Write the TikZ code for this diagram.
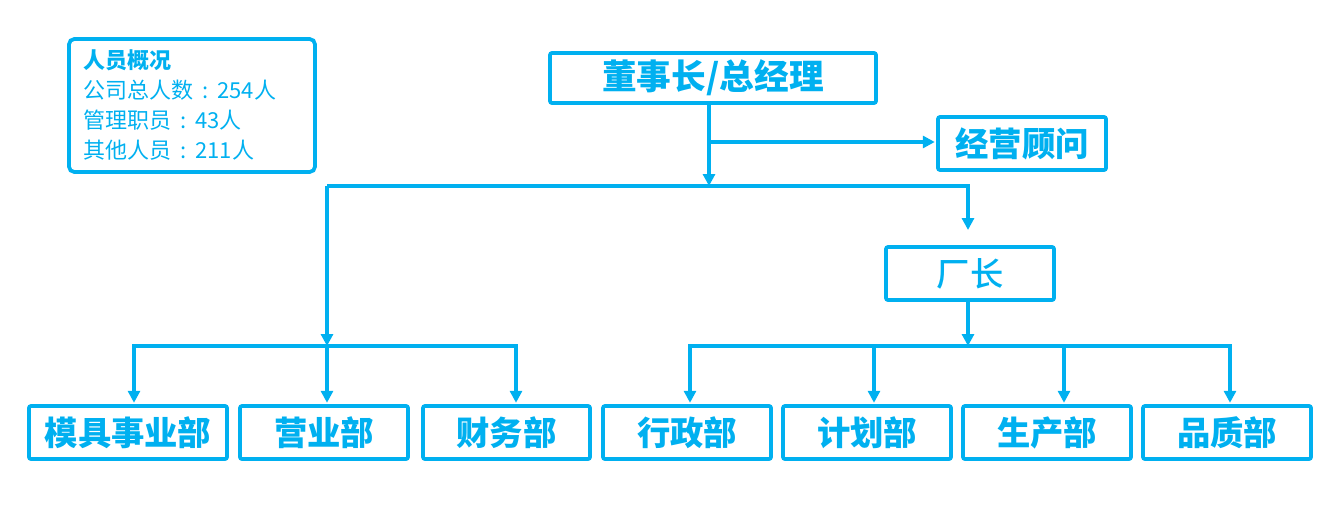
\documentclass[tikz,border=0pt]{standalone}
\usepackage{fontspec}
\newfontfamily\cjk{Noto Sans CJK SC}
\newfontfamily\cjkm{Noto Sans CJK SC}[UprightFont=* Medium]
\usetikzlibrary{arrows.meta}
\definecolor{c}{HTML}{00B0F0}
\tikzset{
  box/.style={draw=c, line width=2.8pt, rounded corners=1.5pt, text=c, inner sep=0pt,
    minimum height=39.75pt, minimum width=126pt, font=\cjk\bfseries\fontsize{25}{30}\selectfont},
  conn/.style={draw=c, line width=2.8pt},
  arr/.style={conn, -{Triangle[width=9pt,length=9pt]}},
  arr2/.style={conn, {Triangle[width=9pt,length=9pt]}-{Triangle[width=9pt,length=9pt]}},
}
\newcommand{\colonsep}{\makebox[1.1em]{:}}
\begin{document}
\begin{tikzpicture}[x=0.75pt,y=-0.75pt]
\useasboundingbox (0,0) rectangle (1332,517);
% info box
\node[draw=c, line width=2.8pt, rounded corners=4pt, minimum width=184.5pt, minimum height=99.75pt, inner sep=0pt] (info) at (192,105.5) {};
\node[anchor=north west, align=left, inner sep=0pt, text=c, font=\cjk\fontsize{16.5}{22.5}\selectfont] (infotext) at (83,49.5)
  {{\bfseries 人员概况}\\公司总人数\colonsep 254人\\管理职员\colonsep 43人\\其他人员\colonsep 211人};
% boxes
\node[box, minimum width=244.5pt, minimum height=37.5pt, font=\cjk\bfseries\fontsize{26}{30}\selectfont] (top) at (713,78) {董事长/总经理};
\node[box] (jy) at (1022,143.5) {经营顾问};
\node[box, font=\cjkm\fontsize{25}{30}\selectfont] (cz) at (970,273.5) {厂长};
\node[box, minimum width=148.5pt] (mj) at (128,432.5) {模具事业部};
\node[box] (yy) at (324,432.5) {营业部};
\node[box, minimum width=125.25pt] (cw) at (506.5,432.5) {财务部};
\node[box] (xz) at (687,432.5) {行政部};
\node[box] (jh) at (867,432.5) {计划部};
\node[box] (sc) at (1047,432.5) {生产部};
\node[box] (pz) at (1227,432.5) {品质部};
% junctions
\coordinate (j0) at (709,142);
\coordinate (j1) at (709,186);
\coordinate (bL) at (327,186);
\coordinate (bR) at (968,186);
\coordinate (czin) at (968,230);
\coordinate (L1) at (134,346);
\coordinate (L2) at (327,346);
\coordinate (L3) at (516,346);
\coordinate (R1) at (690,346);
\coordinate (R2) at (874,346);
\coordinate (R3) at (1064,346);
\coordinate (R4) at (1230,346);
\coordinate (Rc) at (968,346);
% connectors
\draw[arr] (top.south -| j1) -- (j1);
\draw[arr] (j0) -- ([xshift=-1pt]jy.west |- j0);
\draw[arr] (bL) -- (bR) -- (czin);
\draw[arr] (bL) -- (L2);
\draw[arr] (cz.south -| Rc) -- (Rc);
\draw[arr2, shorten <=1pt, shorten >=1pt] (mj.north -| L1) -- (L1) -- (L3) -- (cw.north -| L3);
\draw[arr, shorten >=1pt] (L2) -- (yy.north -| L2);
\draw[arr2, shorten <=1pt, shorten >=1pt] (xz.north -| R1) -- (R1) -- (R4) -- (pz.north -| R4);
\draw[arr, shorten >=1pt] (R2) -- (jh.north -| R2);
\draw[arr, shorten >=1pt] (R3) -- (sc.north -| R3);
\end{tikzpicture}
\end{document}
